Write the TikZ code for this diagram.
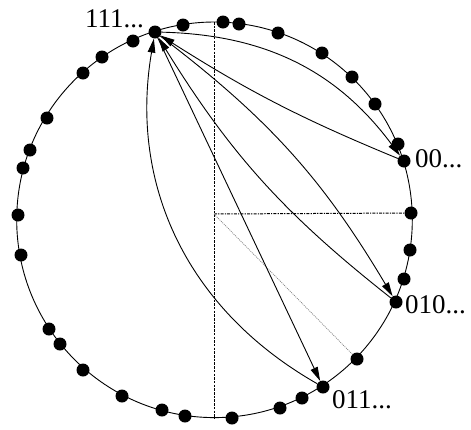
\documentclass[tikz,border=0pt]{standalone}
\usepackage{fontspec}
\setmainfont{Liberation Serif}
\usetikzlibrary{arrows.meta}
\begin{document}
\begin{tikzpicture}[x=1pt,y=1pt,
  dot/.style={circle,fill=black,inner sep=0pt,minimum size=13pt},
  lbl/.style={inner sep=0pt,font=\fontsize{27}{27}\selectfont},
  ring/.style={line width=0.9pt},
  link/.style={line width=0.9pt,-{Triangle[length=14pt,width=7.5pt]}},
  vdash/.style={line width=1pt,dash pattern=on 2.5pt off 1.2pt},
  hdash/.style={line width=1pt,dash pattern=on 3pt off 1.2pt on 1.2pt off 1.2pt},
  faint/.style={line width=0.7pt,gray,dash pattern=on 1pt off 1pt}]
\useasboundingbox (0,0) rectangle (471,-429);
\draw[ring] (214.5,-219.8) circle (197.8);
% special dots
\node[dot] (n111) at (155,-32) {};
\node[dot] (n00) at (404,-161) {};
\node[dot] (n010) at (396,-302) {};
\node[dot] (n011) at (323,-387) {};
\node[dot] (h) at (411,-213) {};
\node[dot] (dq) at (357,-359) {};
% other dots
\foreach \p [count=\i] in {(183,-25),(223,-22),(239,-24),(278,-33),(322,-53),(352,-77),(375,-104),(398,-144),
  (410,-250),(404,-279),(302,-398),(280,-408),(232,-418),(185,-416),(162,-410),(122,-396),(83,-370),
  (60,-344),(49,-329),(21,-255),(18,-215),(23,-168),(30,-150),(47,-118),(83,-73),(102,-57),(133,-41)}
  \node[dot] (d\i) at \p {};
% dashed guides
\coordinate (top) at (214,-22);
\coordinate (bot) at (214,-418);
\coordinate (ctr) at (214,-214);
\draw[vdash] (top) -- (bot);
\draw[hdash] (ctr) -- (h);
\draw[faint] (ctr) -- (dq);
% links
\draw[link] (n111) to[bend left=26] (n00);
\draw[link] (n00) to[bend left=5] (n111);
\draw[link] (n111) to[bend left=11] (n010);
\draw[link] (n010) to[bend left=10] (n111);
\draw[link] (n111) -- (n011);
\draw[link] (n011) to[bend left=35] (n111);
% labels
\node[lbl,anchor=base east] (l111) at (144,-27) {111...};
\node[lbl,anchor=base west] (l00) at (415,-167) {00...};
\node[lbl,anchor=base west] (l010) at (405,-313) {010...};
\node[lbl,anchor=base west] (l011) at (332,-408) {011...};
\end{tikzpicture}
\end{document}
